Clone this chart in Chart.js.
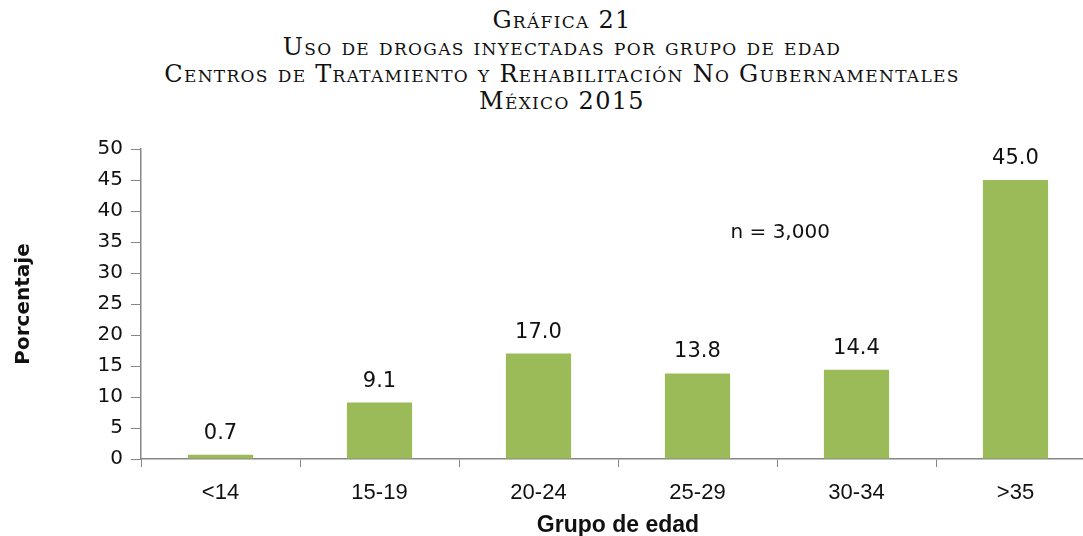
<!DOCTYPE html>
<html>
<head>
<meta charset="utf-8">
<script src="https://cdn.jsdelivr.net/npm/chart.js@4.4.1/dist/chart.umd.min.js"></script>
<style>
  html, body { margin: 0; padding: 0; background: #fff; overflow: hidden; }
  #wrap { position: relative; width: 1083px; height: 536px; overflow: hidden; }
  #title {
    position: absolute; left: 0; top: 7px; width: 1124px;
    text-align: center; font-family: "DejaVu Serif", "Liberation Serif", serif;
    font-variant: small-caps; font-size: 24px; line-height: 27px; letter-spacing: 1.3px; color: #111;
  }
  canvas { position: absolute; left: 0; top: 0; }
</style>
</head>
<body>
<div id="wrap">
  <div id="title">Gráfica 21<br>Uso de drogas inyectadas por grupo de edad<br>Centros de Tratamiento y Rehabilitación No Gubernamentales<br>México 2015</div>
  <!-- canvas is a bit wider than the page: the source picture is cut off on the right -->
  <canvas id="myChart" width="1100" height="536"></canvas>
</div>
<script>
const categories = ["<14", "15-19", "20-24", "25-29", "30-34", ">35"];
const values = [0.7, 9.1, 17.0, 13.8, 14.4, 45.0];
const yTicks = [0, 5, 10, 15, 20, 25, 30, 35, 40, 45, 50];
const note = "n = 3,000";

const axisGrey = "#868686";

// value labels above bars + the "n =" note
const labelPlugin = {
    id: "labels",
    afterDatasetsDraw(chart){
        const ctx = chart.ctx;
        const meta = chart.getDatasetMeta(0);
        ctx.save();
        ctx.font = "21px 'DejaVu Sans'";
        ctx.fillStyle = "#111";
        ctx.textAlign = "center";
        ctx.textBaseline = "bottom";
        meta.data.forEach(function(bar, i){
            ctx.fillText(values[i].toFixed(1), bar.x, bar.y - 11);
        });
        const xs = chart.scales.x, ys = chart.scales.y;
        ctx.font = "20px 'DejaVu Sans'";
        ctx.textBaseline = "middle";
        ctx.fillText(note, xs.getPixelForValue(3.52), ys.getPixelForValue(36.5));
        ctx.restore();
    }
};

const data = {
    labels: categories,
    datasets: [{
        data: values,
        backgroundColor: "#9BBB59",
        barPercentage: 0.41,
        categoryPercentage: 1.0
    }]
};

const config = {
    type: "bar",
    data: data,
    options: {
        responsive: false,
        animation: false,
        layout: { padding: { top: 149, right: 5, left: 8, bottom: 0 } },
        plugins: {
            legend: { display: false },
            tooltip: { enabled: false }
        },
        scales: {
            x: {
                afterFit(scale){ scale.height = 77; },
                grid: { drawOnChartArea: false, color: axisGrey, tickLength: 8, offset: true },
                border: { color: axisGrey, width: 1.5 },
                ticks: {
                    color: "#111", padding: 13,
                    font: { family: "'Liberation Sans Narrow', 'Liberation Sans'", size: 22 }
                },
                title: {
                    display: true, text: "Grupo de edad", color: "#111", padding: { top: 0, bottom: -3 },
                    font: { family: "'Liberation Sans Narrow', 'Liberation Sans'", size: 23, weight: "bold" }
                }
            },
            y: {
                min: 0, max: 50,
                afterBuildTicks(scale){ scale.ticks = yTicks.map(v => ({ value: v })); },
                afterFit(scale){ scale.width = 133; },
                grid: { drawOnChartArea: false, color: axisGrey, tickLength: 10 },
                border: { color: axisGrey, width: 1.5 },
                ticks: {
                    color: "#111", padding: 8,
                    font: { family: "'DejaVu Sans'", size: 20 }
                },
                title: {
                    display: true, text: "Porcentaje", color: "#111", padding: { bottom: 6 },
                    font: { family: "'DejaVu Sans'", size: 20, weight: "bold" }
                }
            }
        }
    },
    plugins: [labelPlugin]
};

const ctx = document.getElementById("myChart").getContext("2d");
let myChart = new Chart(ctx, config);
</script>
</body>
</html>
